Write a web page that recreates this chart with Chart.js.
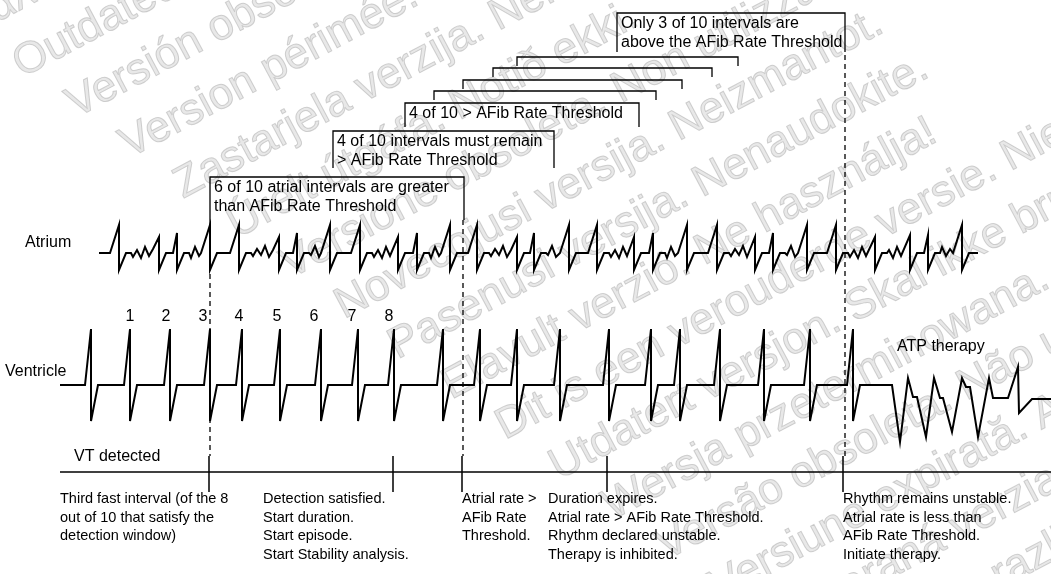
<!DOCTYPE html>
<html>
<head>
<meta charset="utf-8">
<script src="https://cdn.jsdelivr.net/npm/chart.js@4.4.1/dist/chart.umd.min.js"></script>
<style>
  body { margin: 0; background: #fff; }
  canvas { display: block; }
</style>
</head>
<body>
<canvas id="grafico" width="1051" height="574"></canvas>
<script>
// ventricle: time of each R peak, then the ATP burst
const vBeatX = [91, 130, 170, 210, 242, 280, 321, 358, 394, 443, 480, 517, 560, 609, 651, 680, 720, 764, 810, 853];
const vBase = 385, vTop = 329, vBottom = 421;
const atpX = [892, 900, 908, 913, 917, 926, 934, 940, 943, 952, 962, 966, 970, 978, 989, 993, 1008, 1018, 1019, 1032, 1051];
const atpY = [385, 442, 378, 397, 397, 437, 378, 398, 398, 432, 378, 387, 387, 437, 378, 398, 398, 367, 413, 399, 399];

// atrium: spike times and spike heights
const aSpikeX = [119, 159, 177, 210, 239, 279, 297, 330, 360, 398, 417, 450, 477, 517, 534, 569, 597, 634, 653, 687, 717, 755, 773, 807, 836, 875, 910, 928, 962];
const aSpikeTop = [225, 237, 233, 225, 225, 237, 233, 225, 225, 237, 233, 225, 225, 237, 233, 225, 225, 237, 233, 225, 225, 237, 233, 225, 225, 237, 235, 235, 225];
const aBase = 253, aBottom = 270;
const aWave = [-7, 4, -3, 5, -6, 3, -4, 2]; // little fibrillation waves

// beat numbers over the ventricle
const beatLabels = ['1', '2', '3', '4', '5', '6', '7', '8'];
const beatLabelX = [130, 166, 203, 239, 277, 314, 352, 389];

// nested brackets (the sliding 10 interval window)
const bracketLeft = [517, 493, 463, 434];
const bracketRight = [738, 712, 682, 656];
const bracketY = [57, 68, 80, 91];

// boxes with text
const boxLeft = [617, 405, 333, 210];
const boxRight = [845, 639, 554, 464];
const boxTop = [13, 103, 131, 177];
const boxEdge = [52, 127, 168, 220];
const boxText = [
  ['Only 3 of 10 intervals are', 'above the AFib Rate Threshold'],
  ['4 of 10 > AFib Rate Threshold'],
  ['4 of 10 intervals must remain', '> AFib Rate Threshold'],
  ['6 of 10 atrial intervals are greater', 'than AFib Rate Threshold']
];

// events on the timeline
const eventX = [209, 393, 462, 607, 843];
const eventTextX = [60, 263, 462, 548, 843];
const eventText = [
  ['Third fast interval (of the 8', 'out of 10 that satisfy the', 'detection window)'],
  ['Detection satisfied.', 'Start duration.', 'Start episode.', 'Start Stability analysis.'],
  ['Atrial rate >', 'AFib Rate', 'Threshold.'],
  ['Duration expires.', 'Atrial rate > AFib Rate Threshold.', 'Rhythm declared unstable.', 'Therapy is inhibited.'],
  ['Rhythm remains unstable.', 'Atrial rate is less than', 'AFib Rate Threshold.', 'Initiate therapy.']
];
const timelineY = 472;

// watermark lines behind the drawing
const marcaDagua = [
  'Παλιά έκδοση. Μην την χρησιμοποιείτε.',
  'Outdated version. Do not use.',
  'Versión obsoleta. No utilizar.',
  'Version périmée. Ne pas utiliser.',
  'Zastarjela verzija. Nemojte upotrebljavati.',
  'Úrelt útgáfa. Notið ekki.',
  'Versione obsoleta. Non utilizzare.',
  'Novecojusi versija. Neizmantot.',
  'Pasenusi versija. Nenaudokite.',
  'Elavult verzió. Ne használja!',
  'Dit is een verouderde versie. Niet gebruiken.',
  'Utdatert versjon. Skal ikke brukes.',
  'Wersja przeterminowana. Nie używać.',
  'Versão obsoleta. Não utilize.',
  'Versiune expirată. A nu se utiliza.',
  'Zastaraná verzia. Nepoužívať.',
  'Zastarela različica. Ne uporabite.',
  'Vanhentunut versio. Älä käytä.',
  'Föråldrad version. Använd ej.',
  'Güncel olmayan sürüm. Kullanmayın.'
];

function ventricle() {
  const pts = [{ x: 60, y: vBase }];
  vBeatX.forEach(x => {
    pts.push({ x: x - 6, y: vBase });
    pts.push({ x: x, y: vTop });
    pts.push({ x: x, y: vBottom });
    pts.push({ x: x + 7, y: vBase });
  });
  atpX.forEach((x, i) => pts.push({ x: x, y: atpY[i] }));
  return pts;
}

function atrium() {
  const pts = [{ x: 99, y: aBase }];
  let prevEnd = 99;
  aSpikeX.forEach((x, i) => {
    const top = aSpikeTop[i];
    const big = top <= 228;
    const riseStart = x - (big ? 9 : 4);
    const waveFrom = prevEnd + 7, waveTo = riseStart - 2;
    if (waveTo - waveFrom >= 8) {
      pts.push({ x: prevEnd + 5, y: aBase });
      let k = 0;
      for (let wx = waveFrom; wx <= waveTo; wx += 4) {
        pts.push({ x: wx, y: aBase + aWave[(i + k) % aWave.length] });
        k++;
      }
      if (big) pts.push({ x: riseStart, y: aBase });
    } else {
      pts.push({ x: riseStart, y: aBase });
    }
    pts.push({ x: x, y: top });
    pts.push({ x: x, y: aBottom });
    pts.push({ x: x + 7, y: aBase });
    prevEnd = x + 7;
  });
  pts.push({ x: 978, y: aBase });
  return pts;
}

function linha(pts, width, dash) {
  return {
    data: pts, showLine: true, pointRadius: 0, borderColor: '#000',
    borderWidth: width, borderDash: dash || [], tension: 0, fill: false
  };
}

const datasets = [];
datasets.push(linha(atrium(), 2));
datasets.push(linha(ventricle(), 2));

// brackets
bracketY.forEach((y, i) => {
  datasets.push(linha([
    { x: bracketLeft[i], y: y + 9 }, { x: bracketLeft[i], y: y },
    { x: bracketRight[i], y: y }, { x: bracketRight[i], y: y + 9 }
  ], 1.3));
});

// boxes (open at the bottom)
boxTop.forEach((t, i) => {
  datasets.push(linha([
    { x: boxLeft[i], y: boxEdge[i] }, { x: boxLeft[i], y: t },
    { x: boxRight[i], y: t }, { x: boxRight[i], y: boxEdge[i] }
  ], 1.3));
});

// timeline
datasets.push(linha([{ x: 60, y: timelineY }, { x: 1051, y: timelineY }], 1.5));
eventX.forEach(x => {
  datasets.push(linha([{ x: x, y: 456 }, { x: x, y: 492 }], 1.5));
});

// dashed markers down from the boxes
datasets.push(linha([{ x: 210, y: 220 }, { x: 210, y: 456 }], 1.3, [5, 4]));
datasets.push(linha([{ x: 463, y: 220 }, { x: 463, y: 456 }], 1.3, [5, 4]));
datasets.push(linha([{ x: 845, y: 55 }, { x: 845, y: 456 }], 1.3, [5, 4]));

const fundo = {
  id: 'fundo',
  beforeDatasetsDraw(chart) {
    const ctx = chart.ctx;
    const ang = 28 * Math.PI / 180;
    const nx = Math.sin(ang), ny = Math.cos(ang), ux = Math.cos(ang), uy = -Math.sin(ang);
    ctx.save();
    ctx.font = '44px "Liberation Sans", Arial, sans-serif';
    ctx.textBaseline = 'alphabetic';
    ctx.fillStyle = 'rgba(205,205,205,0.45)';
    ctx.strokeStyle = 'rgba(160,160,160,0.45)';
    ctx.lineWidth = 1;
    marcaDagua.forEach((t, i) => {
      const k = i - 1;
      const p = 79.2 + 60.7 * k, q = -17.2 + 28.5 * k;
      const x = p * nx + q * ux, y = p * ny + q * uy;
      ctx.save();
      ctx.translate(x, y);
      ctx.rotate(-ang);
      ctx.fillText(t, 0, 0);
      ctx.strokeText(t, 0, 0);
      ctx.restore();
    });
    ctx.restore();
  }
};

const textos = {
  id: 'textos',
  afterDraw(chart) {
    const ctx = chart.ctx;
    const xs = chart.scales.x, ys = chart.scales.y;
    const px = v => xs.getPixelForValue(v), py = v => ys.getPixelForValue(v);
    ctx.save();
    ctx.fillStyle = '#000';
    ctx.textBaseline = 'middle';
    ctx.font = '16px "Liberation Sans", Arial, sans-serif';
    ctx.textAlign = 'left';
    ctx.fillText('Atrium', px(25), py(243));
    ctx.fillText('Ventricle', px(5), py(372));
    ctx.fillText('VT detected', px(74), py(457));
    ctx.fillText('ATP therapy', px(897), py(347));
    ctx.textAlign = 'center';
    beatLabels.forEach((l, i) => ctx.fillText(l, px(beatLabelX[i]), py(317)));
    ctx.textAlign = 'left';
    boxText.forEach((linhas, i) => {
      linhas.forEach((t, j) => ctx.fillText(t, px(boxLeft[i] + 4), py(boxTop[i] + 11 + j * 19)));
    });
    ctx.font = '14.5px "Liberation Sans", Arial, sans-serif';
    eventText.forEach((linhas, i) => {
      linhas.forEach((t, j) => ctx.fillText(t, px(eventTextX[i]), py(499 + j * 18.5)));
    });
    ctx.restore();
  }
};

new Chart(document.getElementById('grafico'), {
  type: 'scatter',
  data: { datasets: datasets },
  options: {
    responsive: false,
    animation: false,
    layout: { padding: 0 },
    plugins: { legend: { display: false }, tooltip: { enabled: false } },
    scales: {
      x: { type: 'linear', min: 0, max: 1051, display: false },
      y: { type: 'linear', min: 0, max: 574, reverse: true, display: false }
    }
  },
  plugins: [fundo, textos]
});
</script>
</body>
</html>
